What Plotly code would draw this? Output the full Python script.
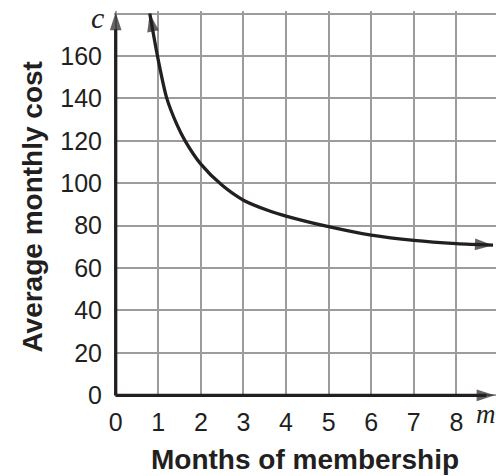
import plotly.graph_objects as go

# Data
months = [0.8, 1.0, 1.2, 1.43, 1.63, 2.0, 2.5, 3.0, 3.6, 4.0, 5.0, 6.0, 7.0, 8.0, 8.86]
cost = [180, 158, 140, 128, 120, 109, 99, 92, 87, 84.5, 79.5, 75.5, 73, 71.5, 70.8]

x_ticks = [0, 1, 2, 3, 4, 5, 6, 7, 8]
y_ticks = [0, 20, 40, 60, 80, 100, 120, 140, 160, 180]
y_ticktext = ["0", "20", "40", "60", "80", "100", "120", "140", "160", ""]

X_RANGE = [-0.04, 8.93]
Y_RANGE = [-0.8, 181.2]
X_AXIS_END = 8.9
Y_AXIS_END = 180.6

INK = "#231f20"
GRID = "#9c9c9c"
ARROW_SIZE = 19

fig = go.Figure()

# axes lines
for xs, ys in [([0, X_AXIS_END - 0.2], [0, 0]), ([0, 0], [0, Y_AXIS_END - 8])]:
    fig.add_trace(go.Scatter(
        x=xs, y=ys, mode="lines", line=dict(color=INK, width=3.3),
        hoverinfo="skip", showlegend=False,
    ))

# main curve
fig.add_trace(go.Scatter(
    x=months, y=cost, mode="lines",
    line=dict(color=INK, width=3.3, shape="spline", smoothing=0.8),
    hoverinfo="skip", showlegend=False,
))

# arrowheads: curve ends (direction from neighbouring data point) and axes ends
heads = [([months[1], months[0]], [cost[1], cost[0]]),
         ([months[-2], months[-1]], [cost[-2], cost[-1]]),
         ([0, X_AXIS_END], [0, 0]),
         ([0, 0], [0, Y_AXIS_END])]
for xs, ys in heads:
    fig.add_trace(go.Scatter(
        x=xs, y=ys, mode="markers",
        marker=dict(symbol="arrow", angleref="previous", size=[0, ARROW_SIZE],
                    color=INK, line=dict(width=0)),
        hoverinfo="skip", showlegend=False, cliponaxis=False,
    ))

# axis variable letters
fig.add_annotation(text="c", x=-0.02, y=0.982, xref="paper", yref="paper",
                   xanchor="right", yanchor="middle", showarrow=False,
                   font=dict(family="Liberation Serif", size=30, color=INK, style="italic"))
fig.add_annotation(text="m", x=0.943, y=-0.045, xref="paper", yref="paper",
                   xanchor="left", yanchor="middle", showarrow=False,
                   font=dict(family="Liberation Serif", size=27, color=INK, style="italic"))

# axis titles
fig.add_annotation(text="<b>Months of membership</b>", x=0.501, y=-0.161,
                   xref="paper", yref="paper", xanchor="center", yanchor="middle",
                   showarrow=False,
                   font=dict(family="Liberation Sans", size=28, color=INK))
fig.add_annotation(text="<b>Average monthly cost</b>", x=-0.2135, y=0.4918,
                   xref="paper", yref="paper", xanchor="center", yanchor="middle",
                   textangle=-90, showarrow=False,
                   font=dict(family="Liberation Sans", size=28, color=INK))

fig.update_xaxes(range=X_RANGE, tickvals=x_ticks, ticktext=[str(v) for v in x_ticks],
                 showgrid=True, gridcolor=GRID, gridwidth=1.6, zeroline=False,
                 showline=False, ticks="", ticklabelstandoff=8, automargin=False,
                 tickfont=dict(family="Liberation Sans", size=25, color=INK),
                 fixedrange=True)
fig.update_yaxes(range=Y_RANGE, tickvals=y_ticks, ticktext=y_ticktext,
                 showgrid=True, gridcolor=GRID, gridwidth=1.6, zeroline=False,
                 showline=False, ticks="", ticklabelstandoff=11, automargin=False,
                 tickfont=dict(family="Liberation Sans", size=25, color=INK),
                 fixedrange=True)

fig.update_layout(
    width=496, height=476,
    margin=dict(l=114.4, r=0.3, t=10.8, b=79.15, autoexpand=False),
    paper_bgcolor="white", plot_bgcolor="white",
    showlegend=False,
)

fig.write_html("out.html", config={"displayModeBar": False},
               post_script="document.body.style.margin='0';document.body.style.padding='0';")
